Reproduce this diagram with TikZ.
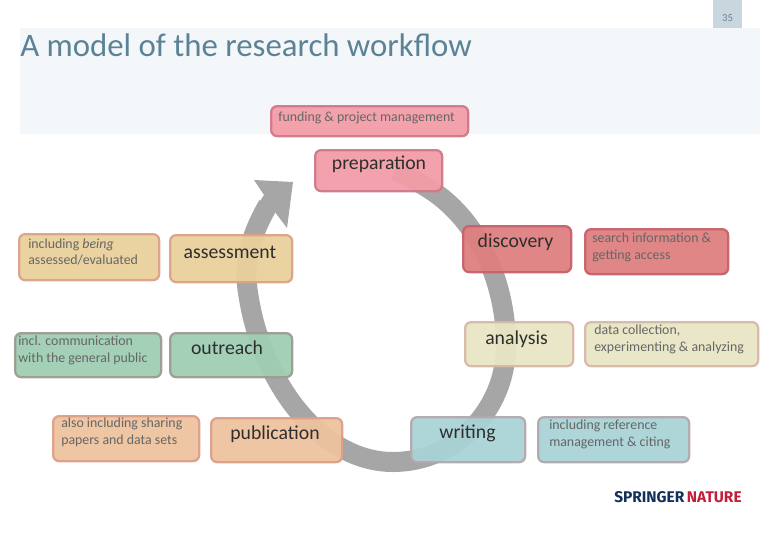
\documentclass[tikz,border=0pt]{standalone}
\usepackage{fontspec}
\setmainfont{Carlito}
\newfontfamily\logofont{Fira Sans}
\tikzset{
  box/.style={draw=#1,line width=1.7pt,rounded corners=4.5pt,fill opacity=.94,draw opacity=.95,text opacity=1,inner sep=0pt,anchor=north west},
  big/.style={text=black!82,inner sep=0pt,font=\fontsize{14.8}{17}\selectfont},
  small/.style={text=black!60,inner sep=0pt,font=\fontsize{10.4}{12.7}\selectfont,align=left},
}
\definecolor{prepF}{HTML}{F39DA8}\definecolor{prepD}{HTML}{D0788A}
\definecolor{discF}{HTML}{DF7F7F}\definecolor{discD}{HTML}{C7616B}
\definecolor{anaF}{HTML}{E8E6C4}\definecolor{anaD}{HTML}{D8B8A8}
\definecolor{wriF}{HTML}{A9D3D6}\definecolor{wriD}{HTML}{B3A8AE}
\definecolor{pubF}{HTML}{EEC39E}\definecolor{pubD}{HTML}{DD9F88}
\definecolor{outF}{HTML}{9FCEB4}\definecolor{outD}{HTML}{9C9C92}
\definecolor{assF}{HTML}{E9D19C}\definecolor{assD}{HTML}{DDA28C}
\definecolor{ringC}{HTML}{A6A6A6}
\definecolor{bandC}{HTML}{F3F7F9}
\definecolor{tagC}{HTML}{C8D6DE}
\begin{document}
\begin{tikzpicture}[x=0.75pt,y=-0.75pt]
\useasboundingbox (0,0) rectangle (780,540);
\fill[white] (0,0) rectangle (780,540);
\node[fill=bandC,minimum width=740*0.75pt,minimum height=106*0.75pt,inner sep=0pt,anchor=north west] (band) at (20,28) {};
\node[fill=tagC,minimum width=29*0.75pt,minimum height=28*0.75pt,inner sep=0pt,anchor=north west] (tag) at (713,0) {};
\node[text={rgb,255:red,110;green,130;blue,150},font=\fontsize{8}{9}\selectfont] (num) at (727.5,18) {35};
\node[anchor=west,inner sep=0pt,text={rgb,255:red,92;green,130;blue,150},font=\fontsize{24.6}{27}\selectfont] (title) at (20,45.5) {A model of the research workflow};
% ring
\draw[ringC,line width=15pt] (395,170) .. controls (408,176) and (420,183) .. (431,190)
  .. controls (480,222) and (506,285) .. (506,345)
  .. controls (506,410) and (455,462) .. (393,462)
  .. controls (320,462) and (258,380) .. (247,285)
  .. controls (243.5,255) and (255,228) .. (268,205);
\fill[ringC] (254,180) -- (293,182) -- (287,228) -- (275,212) -- (267,222) -- (254,210) -- (264,195) -- cycle;
% main boxes
\node[box=prepD,fill=prepF,minimum width=127*0.75pt,minimum height=41*0.75pt] (prep) at (314,149) {};
\node[big,anchor=center] (preplab) at (379,164) {preparation};
\node[box=discD,fill=discF,minimum width=108*0.75pt,minimum height=46*0.75pt] (disc) at (462,225) {};
\node[big,anchor=center] (disclab) at (515.5,242) {discovery};
\node[box=anaD,fill=anaF,minimum width=108*0.75pt,minimum height=44*0.75pt] (ana) at (464,321) {};
\node[big,anchor=center] (analab) at (516.5,339) {analysis};
\node[box=wriD,fill=wriF,minimum width=114*0.75pt,minimum height=45*0.75pt] (wri) at (410,416) {};
\node[big,anchor=center] (wrilab) at (467.5,433) {writing};
\node[box=pubD,fill=pubF,minimum width=131*0.75pt,minimum height=44*0.75pt] (pub) at (210,417) {};
\node[big,anchor=center] (publab) at (275,434) {publication};
\node[box=outD,fill=outF,minimum width=122*0.75pt,minimum height=44*0.75pt] (out) at (169,332) {};
\node[big,anchor=center] (outlab) at (227,348) {outreach};
\node[box=assD,fill=assF,minimum width=122*0.75pt,minimum height=47*0.75pt] (ass) at (169,234) {};
\node[big,anchor=center] (asslab) at (230,252) {assessment};
% side boxes
\node[box=prepD,fill=prepF,minimum width=197*0.75pt,minimum height=30*0.75pt] (fund) at (270,105) {};
\node[small,anchor=west] (fundlab) at (278,118) {funding \& project management};
\node[box=discD,fill=discF,minimum width=143*0.75pt,minimum height=45*0.75pt] (search) at (584,228) {};
\node[small,anchor=west] (searchlab) at (592,247) {search information \&\\getting access};
\node[box=anaD,fill=anaF,minimum width=173*0.75pt,minimum height=44*0.75pt] (data) at (584,321) {};
\node[small,anchor=west] (datalab) at (594,339) {data collection,\\experimenting \& analyzing};
\node[box=wriD,fill=wriF,minimum width=151*0.75pt,minimum height=45*0.75pt] (ref) at (537,416) {};
\node[small,anchor=west] (reflab) at (549,434) {including reference\\management \& citing};
\node[box=pubD,fill=pubF,minimum width=146*0.75pt,minimum height=45*0.75pt] (share) at (52,415) {};
\node[small,anchor=west] (sharelab) at (61,432) {also including sharing\\papers and data sets};
\node[box=outD,fill=outF,minimum width=146*0.75pt,minimum height=44*0.75pt] (comm) at (14,332) {};
\node[small,anchor=west] (commlab) at (18,350) {incl. communication\\with the general public};
\node[box=assD,fill=assF,minimum width=140*0.75pt,minimum height=46*0.75pt] (being) at (18,233) {};
\node[small,anchor=west] (beinglab) at (28,252) {including \textit{being}\\assessed/evaluated};
% logo
\node[anchor=west,inner sep=0pt,font=\logofont\bfseries\fontsize{11.6}{13}\selectfont] (logo) at (614,497) {\textcolor[HTML]{12305A}{SPRINGER}\,\textcolor[HTML]{C41E3A}{NATURE}};
\end{tikzpicture}
\end{document}
